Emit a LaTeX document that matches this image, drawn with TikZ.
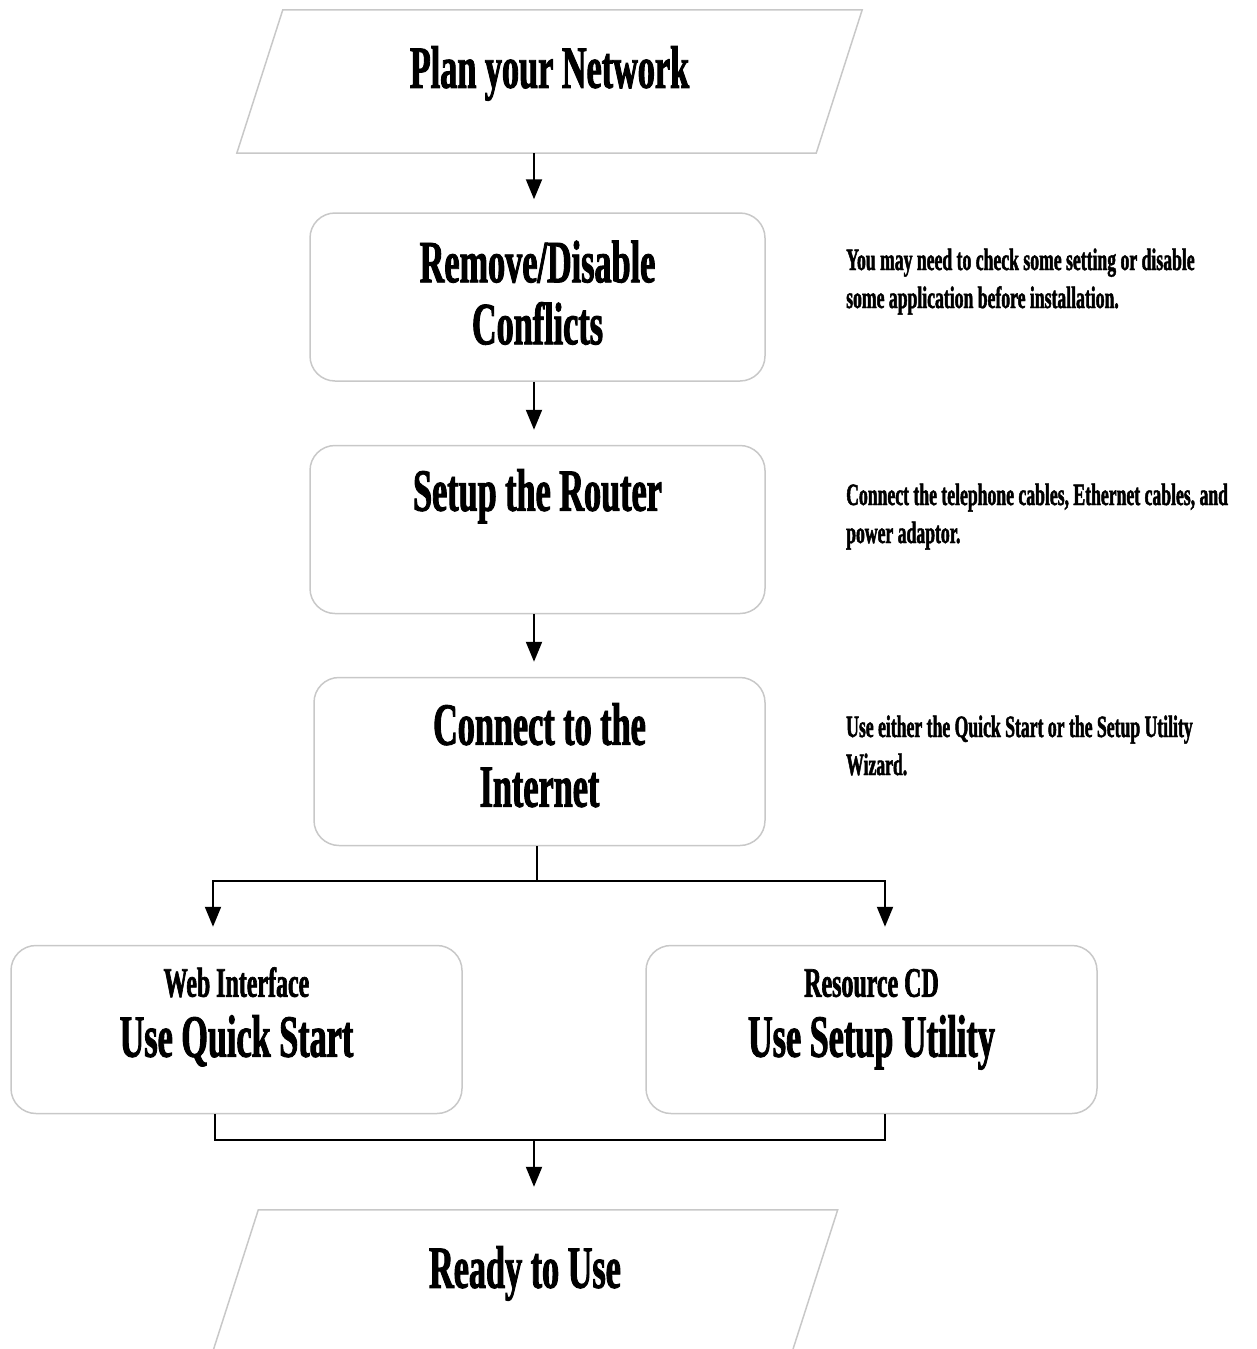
\documentclass[tikz,border=0pt]{standalone}
\usepackage{fontspec}
\usepackage{xcolor}
\usetikzlibrary{arrows.meta,positioning}
\newfontfamily\condfont{Liberation Serif}[FakeStretch=0.57,FakeBold=1.5]
\definecolor{boxgray}{RGB}{200,200,200}

\tikzset{
  stepbox/.style={draw=boxgray, line width=1.5pt, rounded corners=25pt, minimum width=455pt, minimum height=168pt, inner sep=2pt},
  slantbox/.style={minimum width=625pt, minimum height=143pt, inner sep=2pt},
  slantline/.style={draw=boxgray, line width=1.5pt},
  title/.style={font=\condfont\bfseries\fontsize{60}{62}\selectfont, align=center, anchor=base, inner sep=0pt},
  subtitle/.style={font=\condfont\bfseries\fontsize{42}{44}\selectfont, anchor=base, inner sep=0pt},
  note/.style={font=\condfont\bfseries\fontsize{31}{38}\selectfont, align=left, anchor=base west, inner sep=0pt},
  arr/.style={line width=2pt, -{Triangle[width=16pt,length=20pt]}, shorten >=15pt},
  line/.style={line width=2pt},
}

\begin{document}
\begin{tikzpicture}[x=1pt,y=-1pt]
    \useasboundingbox (0,0) rectangle (1256,1349);

    % steps
    \node[slantbox] (plan) at (549.5,81.5) {};
    \node[stepbox] (conflicts) at (537.5,297) {};
    \node[stepbox] (router) at (537.5,529.5) {};
    \node[stepbox, minimum width=451pt] (internet) at (539.5,761.5) {};
    \node[stepbox, minimum width=451pt] (quick) at (236.5,1029.5) {};
    \node[stepbox, minimum width=451pt] (utility) at (871.5,1029.5) {};
    \node[slantbox] (ready) at (525,1281.5) {};

    % parallelograms
    \foreach \n in {plan,ready}
        \draw[slantline] ([xshift=46pt]\n.north west) -- (\n.north east) -- ([xshift=-46pt]\n.south east) -- (\n.south west) -- cycle;

    % texts (base = last line)
    \node[title] (plan-t) at ([yshift=-78pt]plan.north) {Plan your Network};
    \node[title] (conflicts-t) at ([yshift=-132pt]conflicts.north) {Remove/Disable\\Conflicts};
    \node[title] (router-t) at ([yshift=-66pt]router.north) {Setup the Router};
    \node[title] (internet-t) at ([yshift=-130pt]internet.north) {Connect to the\\Internet};
    \node[subtitle] (quick-s) at ([yshift=-52pt]quick.north) {Web Interface};
    \node[title] (quick-t) at ([yshift=-112pt]quick.north) {Use Quick Start};
    \node[subtitle] (utility-s) at ([yshift=-52pt]utility.north) {Resource CD};
    \node[title] (utility-t) at ([yshift=-112pt]utility.north) {Use Setup Utility};
    \node[title] (ready-t) at ([yshift=-78pt]ready.north) {Ready to Use};

    % notes
    \node[note] (conflicts-n) at (846,308) {You may need to check some setting or disable\\some application before installation.};
    \node[note] (router-n) at (846,543) {Connect the telephone cables, Ethernet cables, and\\power adaptor.};
    \node[note] (internet-n) at (846,775) {Use either the Quick Start or the Setup Utility\\Wizard.};

    % connectors
    \draw[arr, shorten >=13pt] ([xshift=-3.5pt]plan.south -| conflicts.north) -- ([xshift=-3.5pt]conflicts.north);
    \draw[arr] ([xshift=-3.5pt]conflicts.south) -- ([xshift=-3.5pt]router.north);
    \draw[arr] ([xshift=-3.5pt]router.south) -- ([xshift=-3.5pt]router.south |- internet.north);
    \draw[line] ([xshift=-2.5pt]internet.south) -- ++(0,35) coordinate (fork);
    \draw[arr, shorten >=18pt] (fork) -| ([xshift=-23.5pt]quick.north);
    \draw[arr, shorten >=18pt] (fork) -| ([xshift=13.5pt]utility.north);
    \draw[line] ([xshift=-21.5pt]quick.south) -- ++(0,26) -| ([xshift=13.5pt]utility.south);
    \coordinate (merge) at (534,1139);
    \draw[arr, shorten >=23pt] (merge) -- (merge |- ready.north);
\end{tikzpicture}
\end{document}
